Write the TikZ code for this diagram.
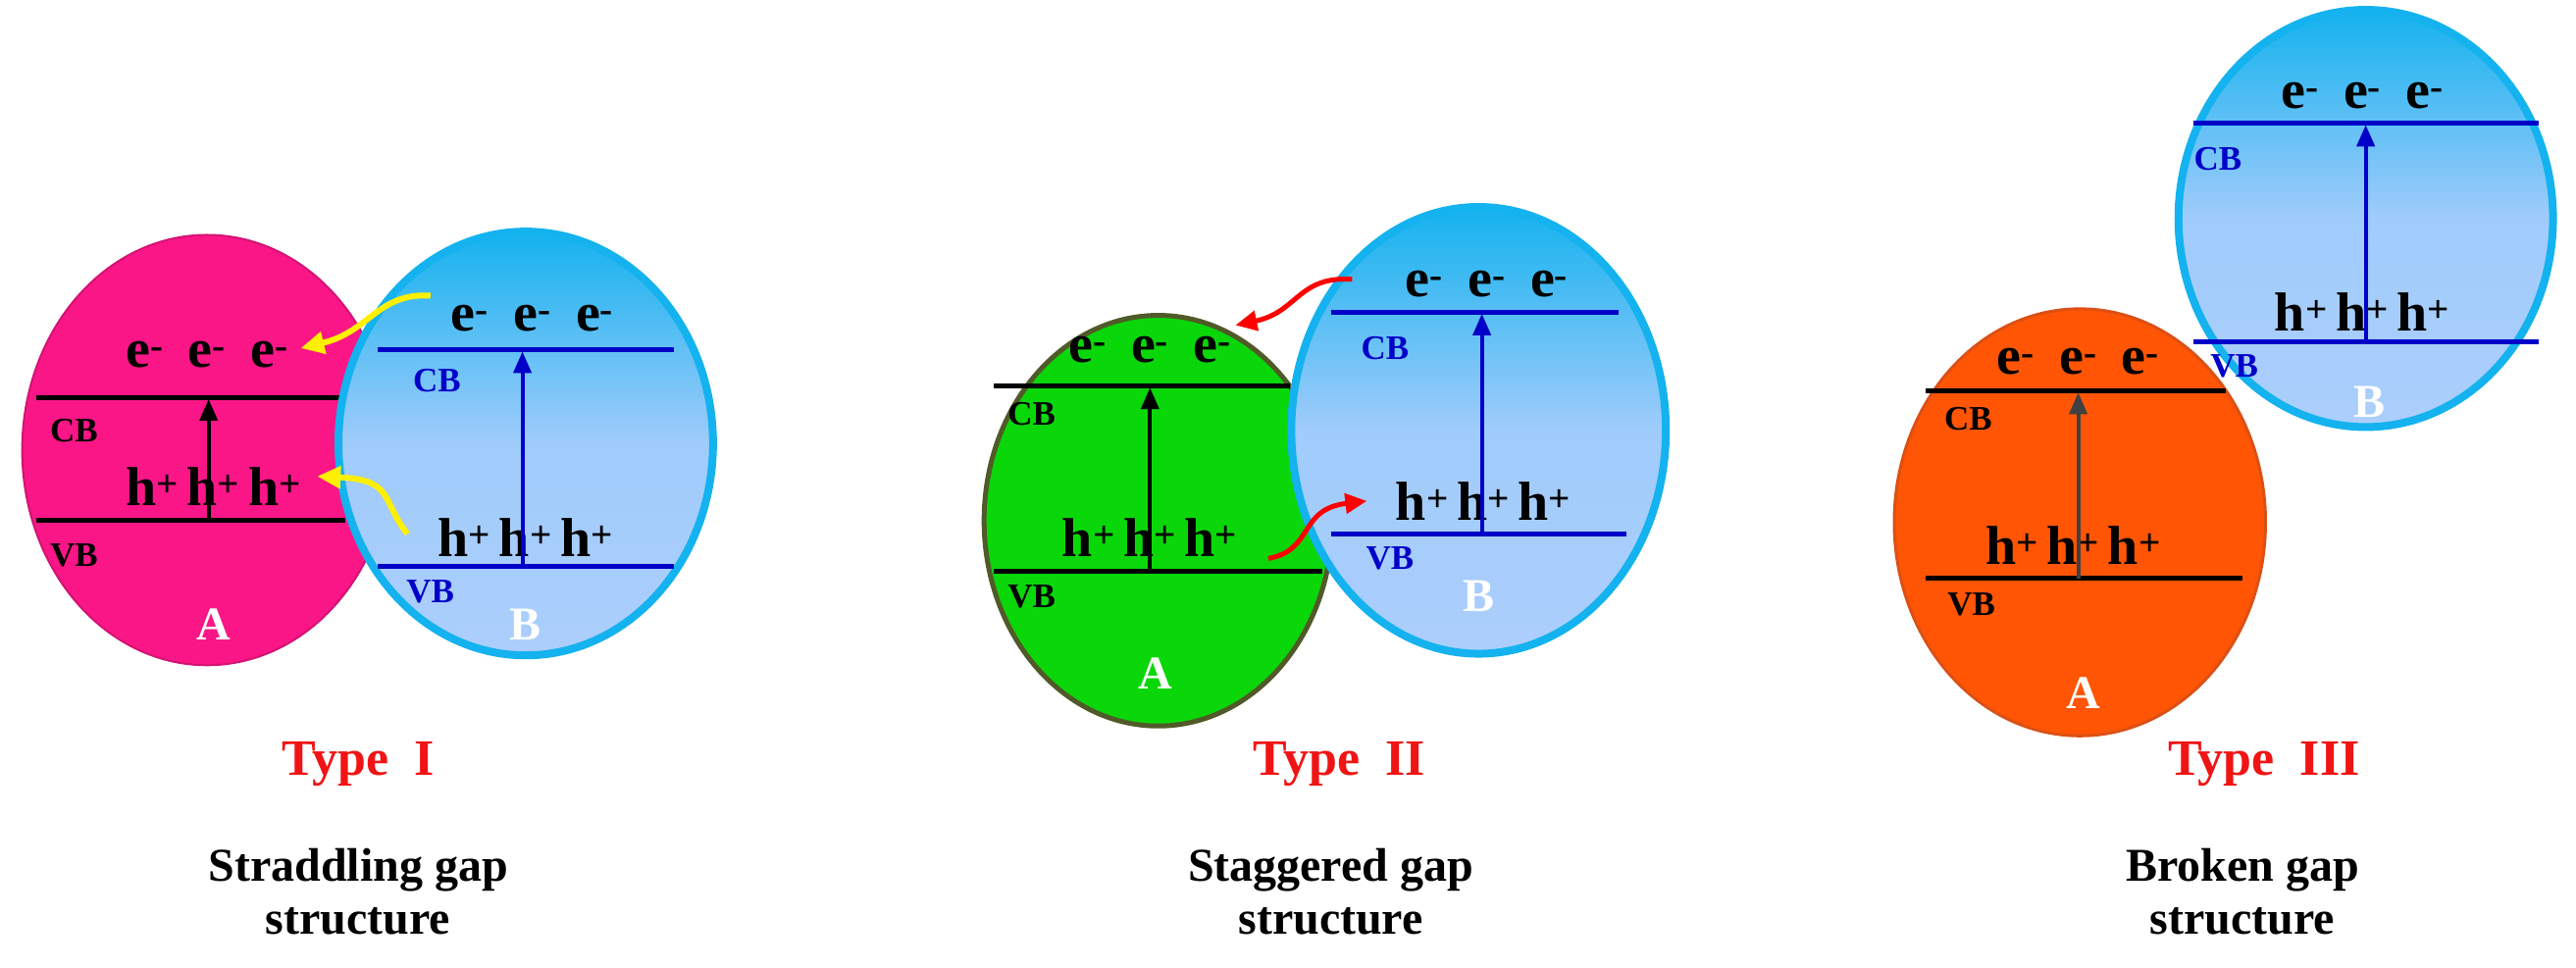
\documentclass[tikz,border=0pt]{standalone}
\usepackage{fontspec}
\setmainfont{Liberation Serif}
\usetikzlibrary{shapes.geometric,arrows.meta}
\definecolor{pinkA}{RGB}{250,22,135}
\definecolor{greenA}{RGB}{10,215,10}
\definecolor{greenB}{RGB}{80,90,40}
\definecolor{orangeA}{RGB}{255,85,5}
\definecolor{orangeB}{RGB}{220,80,20}
\definecolor{cyanB}{RGB}{20,178,238}
\definecolor{lightB}{RGB}{172,206,252}
\definecolor{bandblue}{RGB}{0,0,200}
\definecolor{typered}{RGB}{240,20,20}
\definecolor{arrowyellow}{RGB}{255,240,0}
\begin{document}
\begin{tikzpicture}[x=1.675pt,y=-1.675pt,
  blob/.style={ellipse,inner sep=0pt},
  bluebl/.style={blob,draw=cyanB,line width=8pt,top color=cyanB,bottom color=lightB,middle color=lightB!92!cyanB,shading angle=0},
  bandA/.style={black,line width=5pt},
  bandB/.style={bandblue,line width=5pt},
  carr/.style={font=\fontsize{56}{60}\selectfont\bfseries,inner sep=0pt},
  lblA/.style={font=\fontsize{35}{37}\selectfont\bfseries,inner sep=0pt},
  lblB/.style={lblA,text=bandblue},
  letter/.style={font=\fontsize{48}{50}\selectfont\bfseries,text=white,inner sep=0pt},
  typel/.style={font=\fontsize{52}{54}\selectfont\bfseries,text=typered},
  capt/.style={font=\fontsize{48}{54}\selectfont\bfseries,align=center},
  exc/.style={line width=4pt,-{Triangle[length=22pt,width=18pt]}},
  yel/.style={arrowyellow,line width=6pt,-{Triangle[length=24pt,width=22pt]}},
  redarr/.style={red,line width=5pt,-{Triangle[length=22pt,width=20pt]}}]
\useasboundingbox (0,0) rectangle (1568,589);
\newcommand{\ees}{e\textsuperscript{-}\hspace{0.45em}e\textsuperscript{-}\hspace{0.45em}e\textsuperscript{-}}
\newcommand{\hhs}{h\textsuperscript{+}\hspace{0.15em}h\textsuperscript{+}\hspace{0.15em}h\textsuperscript{+}}
% ---------- Type I ----------
\node[blob,fill=pinkA,draw=pinkA!85!black,line width=2pt,minimum width=225*1.675pt,minimum height=262*1.675pt] (pA) at (126,274) {};
\draw[bandA] (22,242) -- (210,242);
\draw[bandA] (22,317) -- (210,317);
\node[carr] (pe) at (126,216) {\ees};
\node[carr] (ph) at (130,296) {\hhs};
\node[lblA] (pcb) at (45,262) {CB};
\node[lblA] (pvb) at (45,338) {VB};
\node[letter] (pa) at (130,380) {A};
\coordinate (pa1) at (127,317); \coordinate (pa2) at (127,243);
\draw[exc,black] (pa1) -- (pa2);
\node[bluebl,minimum width=228*1.675pt,minimum height=258*1.675pt] (bA) at (320,270) {};
\draw[bandB] (230,213) -- (410,213);
\draw[bandB] (230,345) -- (410,345);
\node[carr] (be) at (324,194) {\ees};
\node[carr] (bh) at (320,327) {\hhs};
\node[lblB] (bcb) at (266,232) {CB};
\node[lblB] (bvb) at (262,360) {VB};
\node[letter] (bb) at (320,380) {B};
\coordinate (ba1) at (318,345); \coordinate (ba2) at (318,214);
\draw[exc,bandblue] (ba1) -- (ba2);
\coordinate (y1s) at (262,180); \coordinate (y1e) at (183,212);
\draw[yel] (y1s) .. controls (230,178) and (225,202) .. (y1e);
\coordinate (y2s) at (248,325); \coordinate (y2e) at (193,290);
\draw[yel] (y2s) .. controls (232,305) and (240,292) .. (y2e);
\node[typel] (t1) at (218,465) {Type\ \ I};
\node[capt] (c1) at (218,543) {Straddling gap\\structure};
% ---------- Type II ----------
\node[blob,fill=greenA,draw=greenB,line width=5pt,minimum width=212*1.675pt,minimum height=250*1.675pt] (gA) at (705,317) {};
\node[bluebl,minimum width=228*1.675pt,minimum height=272*1.675pt] (bB) at (900,262) {};
\draw[bandA] (605,235) -- (785,235);
\draw[bandA] (605,348) -- (805,348);
\node[carr] (ge) at (700,213) {\ees};
\node[carr] (gh) at (700,327) {\hhs};
\node[lblA] (gcb) at (628,252) {CB};
\node[lblA] (gvb) at (628,363) {VB};
\node[letter] (ga) at (703,410) {A};
\coordinate (ga1) at (700,348); \coordinate (ga2) at (700,236);
\draw[exc,black] (ga1) -- (ga2);
\draw[bandB] (810,190) -- (985,190);
\draw[bandB] (810,325) -- (990,325);
\node[carr] (be2) at (905,173) {\ees};
\node[carr] (bh2) at (903,305) {\hhs};
\node[lblB] (bcb2) at (843,212) {CB};
\node[lblB] (bvb2) at (846,340) {VB};
\node[letter] (bb2) at (900,363) {B};
\coordinate (bb1) at (902,325); \coordinate (bb2c) at (902,191);
\draw[exc,bandblue] (bb1) -- (bb2c);
\coordinate (r1s) at (823,170); \coordinate (r1e) at (752,198);
\draw[redarr] (r1s) .. controls (790,168) and (790,190) .. (r1e);
\coordinate (r2s) at (772,340); \coordinate (r2e) at (832,305);
\draw[redarr] (r2s) .. controls (800,335) and (790,310) .. (r2e);
\node[typel] (t2) at (815,465) {Type\ \ II};
\node[capt] (c2) at (810,543) {Staggered gap\\structure};
% ---------- Type III ----------
\node[blob,fill=orangeA,draw=orangeB,line width=3pt,minimum width=226*1.675pt,minimum height=260*1.675pt] (oA) at (1266,318) {};
\draw[bandA] (1172,238) -- (1355,238);
\draw[bandA] (1172,352) -- (1365,352);
\node[carr] (oe) at (1265,220) {\ees};
\node[carr] (oh) at (1262,332) {\hhs};
\node[lblA] (ocb) at (1198,255) {CB};
\node[lblA] (ovb) at (1200,368) {VB};
\node[letter] (oa) at (1268,422) {A};
\coordinate (oa1) at (1265,352); \coordinate (oa2) at (1265,239);
\draw[exc,black!75] (oa1) -- (oa2);
\node[bluebl,minimum width=228*1.675pt,minimum height=254*1.675pt] (bC) at (1440,133) {};
\draw[bandB] (1335,75) -- (1545,75);
\draw[bandB] (1335,208) -- (1545,208);
\node[carr] (be3) at (1438,58) {\ees};
\node[carr] (bh3) at (1438,190) {\hhs};
\node[lblB] (bcb3) at (1350,97) {CB};
\node[lblB] (bvb3) at (1360,223) {VB};
\node[letter] (bb3) at (1442,245) {B};
\coordinate (bc1) at (1440,208); \coordinate (bc2) at (1440,76);
\draw[exc,bandblue] (bc1) -- (bc2);
\node[typel] (t3) at (1378,465) {Type\ \ III};
\node[capt] (c3) at (1365,543) {Broken gap\\structure};
\end{tikzpicture}
\end{document}
